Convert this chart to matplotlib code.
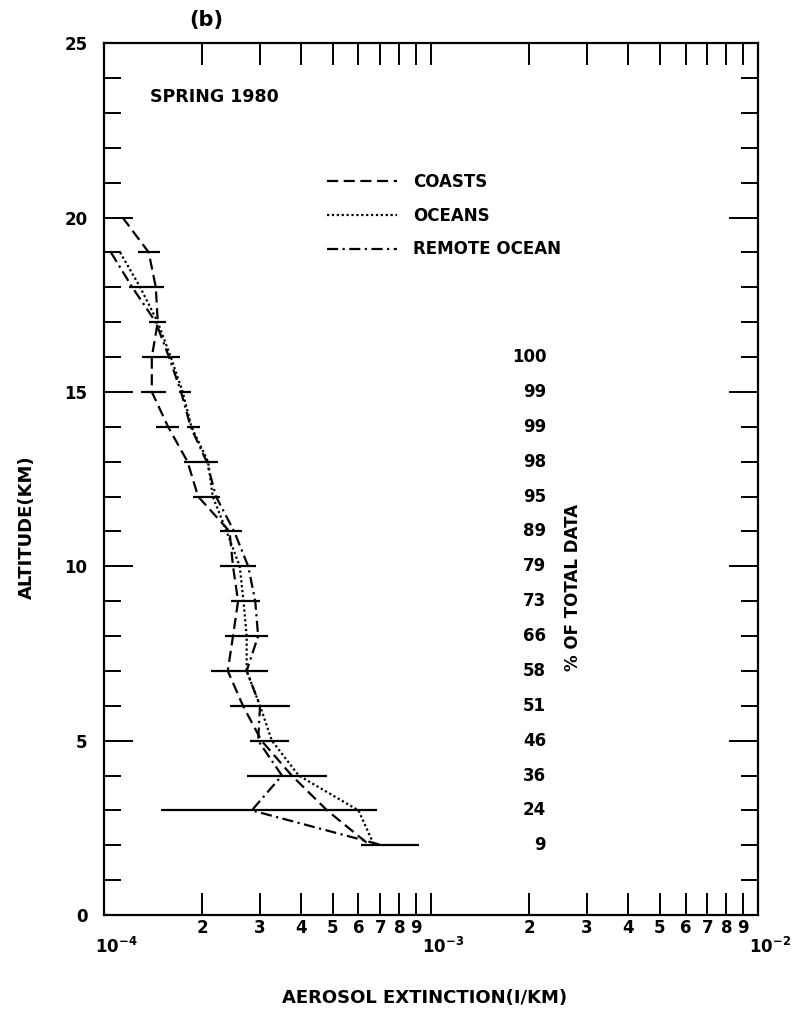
import numpy as np
import matplotlib.pyplot as plt
from matplotlib.ticker import FixedLocator, FixedFormatter, NullFormatter
from matplotlib.transforms import ScaledTranslation

plt.rcParams['font.weight'] = 'bold'
plt.rcParams['axes.labelweight'] = 'bold'
plt.rcParams['mathtext.default'] = 'regular'

# altitude levels (km)
alt_coasts = [20, 19, 18, 17, 16, 15, 14, 13, 12, 11, 10, 9, 8, 7, 6, 5, 4, 3, 2]
alt_ocean = [19, 18, 17, 16, 15, 14, 13, 12, 11, 10, 9, 8, 7, 6, 5, 4, 3, 2]

# extinction, units of 1e-4 /km
coasts = [1.14, 1.37, 1.44, 1.46, 1.40, 1.40, 1.57, 1.80, 1.94, 2.42, 2.48, 2.57,
          2.48, 2.39, 2.66, 3.03, 3.75, 4.81, 6.5]
oceans = [1.12, 1.29, 1.46, 1.60, 1.74, 1.85, 2.08, 2.15, 2.37, 2.60, 2.67, 2.73,
          2.73, 3.0, 3.26, 3.94, 6.0, 6.7]
remote = [1.05, 1.22, 1.44, 1.58, 1.72, 1.84, 2.06, 2.20, 2.50, 2.76, 2.90, 2.96,
          2.73, 3.0, 2.96, 3.5, 2.83, 7.1]

# spread bars
bar_alt = [19, 18, 17, 16, 15, 15, 14, 14, 13, 12, 11, 10, 9, 8, 7, 6, 5, 4, 3, 2]
bar_lo = [1.27, 1.19, 1.37, 1.31, 1.30, 1.70, 1.44, 1.80, 1.76, 1.87, 2.26, 2.26,
          2.45, 2.34, 2.13, 2.42, 2.79, 2.73, 1.49, 6.09]
bar_hi = [1.48, 1.53, 1.55, 1.71, 1.55, 1.85, 1.69, 1.97, 2.23, 2.26, 2.65, 2.91,
          3.0, 3.18, 3.18, 3.71, 3.69, 4.81, 6.85, 9.2]

# % of total data
pct_alt = [16, 15, 14, 13, 12, 11, 10, 9, 8, 7, 6, 5, 4, 3, 2]
pct = ['100', '99', '99', '98', '95', '89', '79', '73', '66', '58', '51', '46', '36', '24', '9']

scale = 1e-4
fig = plt.figure(figsize=(8.02, 10.15), dpi=100)
ax = fig.add_axes([0.1297, 0.0985, 0.8155, 0.859])

lw = 1.6
ax.plot(np.array(coasts) * scale, alt_coasts, color='black', lw=lw,
        linestyle=(0, (5, 2.5)), label='COASTS')
ax.plot(np.array(oceans) * scale, alt_ocean, color='black', lw=lw,
        linestyle=(0, (1, 1.2)), label='OCEANS')
ax.plot(np.array(remote) * scale, alt_ocean, color='black', lw=lw,
        linestyle=(0, (5, 2, 1, 2)), label='REMOTE OCEAN')

ax.hlines(bar_alt, np.array(bar_lo) * scale, np.array(bar_hi) * scale,
          color='black', lw=1.6)

for a, p in zip(pct_alt, pct):
    ax.text(2.25e-3, a, p, ha='right', va='center', fontsize=12)
ax.text(2.72e-3, 9.4, '% OF TOTAL DATA', rotation=90, ha='center', va='center',
        fontsize=12)

ax.text(1.38e-4, 23.45, 'SPRING 1980', ha='left', va='center', fontsize=12.5)
ax.text(0.157, 1.026, '(b)', transform=ax.transAxes, ha='center', va='center',
        fontsize=15)

leg = ax.legend(loc='upper left', bbox_to_anchor=(0.33, 0.859), frameon=False,
                fontsize=12, handlelength=4.2, handletextpad=1.0,
                labelspacing=0.95, borderaxespad=0)

ax.set_xscale('log')
ax.set_xlim(1e-4, 1e-2)
ax.set_ylim(0, 25)

# x ticks
ax.xaxis.set_major_locator(FixedLocator([1e-4, 1e-3, 1e-2]))
ax.xaxis.set_major_formatter(FixedFormatter([r'$10^{-4}$', r'$10^{-3}$', r'$10^{-2}$']))
minor_x = [m * d for d in (1e-4, 1e-3) for m in range(2, 10)]
ax.xaxis.set_minor_locator(FixedLocator(minor_x))
ax.xaxis.set_minor_formatter(FixedFormatter([str(m) for d in (0, 1) for m in range(2, 10)]))

# y ticks
ax.set_yticks([0, 5, 10, 15, 20, 25])
ax.set_yticks(np.arange(0, 26, 1), minor=True)
ax.yaxis.set_minor_formatter(NullFormatter())

ax.tick_params(axis='x', which='both', direction='in', top=True, length=16,
               width=1.4, labelsize=12)
ax.tick_params(axis='x', which='major', pad=16)
ax.tick_params(axis='x', which='minor', pad=3)
ax.tick_params(axis='y', which='both', direction='in', right=True, width=1.4,
               labelsize=12, pad=12)
ax.tick_params(axis='y', which='major', length=21)
ax.tick_params(axis='y', which='minor', length=12)

offset = ScaledTranslation(12 / 100, 0, fig.dpi_scale_trans)
for lab in ax.get_xticklabels(which='major'):
    lab.set_transform(lab.get_transform() + offset)

for s in ax.spines.values():
    s.set_linewidth(1.6)

ax.set_xlabel('AEROSOL EXTINCTION(I/KM)', fontsize=13, fontweight='bold')
ax.xaxis.set_label_coords(0.49, -0.085)
ax.set_ylabel('ALTITUDE(KM)', fontsize=13, fontweight='bold')
ax.yaxis.set_label_coords(-0.104, 0.445)

fig.savefig('out.png', dpi=100)
